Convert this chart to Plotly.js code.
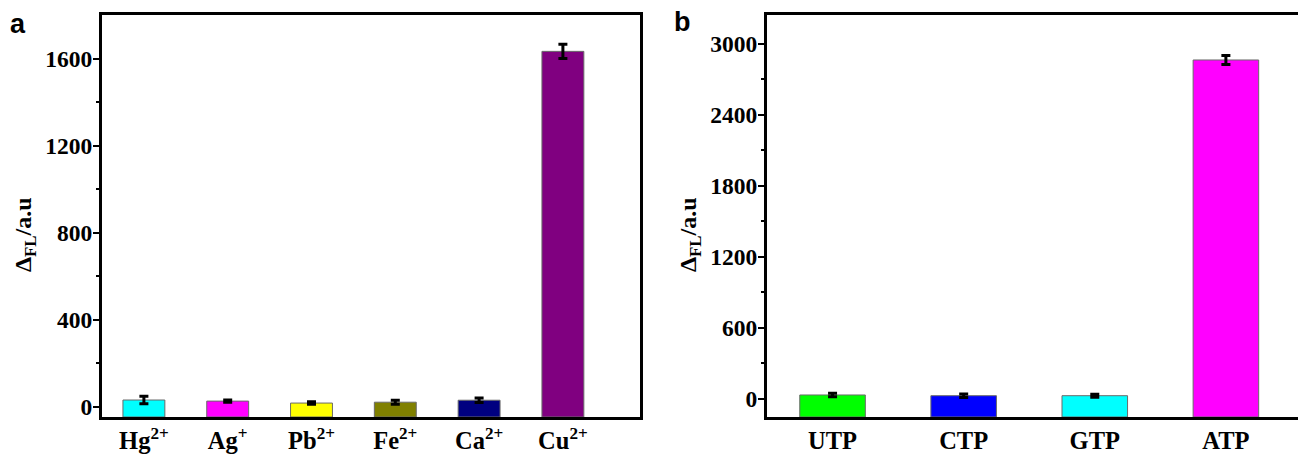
<!DOCTYPE html>
<html>
<head>
<meta charset="utf-8">
<script src="https://cdn.plot.ly/plotly-3.0.1.min.js"></script>
<style>html,body{margin:0;padding:0;background:#fff;overflow:hidden;}#chart{width:1298px;height:454px;}</style>
</head>
<body>
<div id="chart"></div>
<script>
// Panel a: metal ions
var ionLabels = ['Hg<sup>2+</sup>', 'Ag<sup>+</sup>', 'Pb<sup>2+</sup>', 'Fe<sup>2+</sup>', 'Ca<sup>2+</sup>', 'Cu<sup>2+</sup>'];
var ionValues = [32, 27, 18, 22, 31, 1633];
var ionErrors = [17, 5, 6, 9, 10, 33];
var ionColors = ['#00FFFF', '#FF00FF', '#FFFF00', '#808000', '#000080', '#800080'];
var ionTicks = [0, 400, 800, 1200, 1600];
var ionMinorTicks = [200, 600, 1000, 1400];

// Panel b: nucleotides
var nucLabels = ['UTP', 'CTP', 'GTP', 'ATP'];
var nucValues = [34, 28, 28, 2864];
var nucErrors = [15, 15, 13, 38];
var nucColors = ['#00FF00', '#0000FF', '#00FFFF', '#FF00FF'];
var nucTicks = [0, 600, 1200, 1800, 2400, 3000];
var nucMinorTicks = [300, 900, 1500, 2100, 2700];

var yRangeA = [-46, 1800];
var yRangeB = [-152, 3244];

var serif = 'Liberation Serif, Times New Roman, serif';
var W = 1298, H = 454;

function bold(s) { return '<b>' + s + '</b>'; }

function bar(labels, values, errors, colors, base, xa, ya) {
  return {
    type: 'bar',
    x: labels,
    y: values.map(function (v) { return v - base; }),
    base: base,
    xaxis: xa, yaxis: ya,
    width: 0.5,
    marker: {color: colors, line: {color: '#6a6a6a', width: 1}},
    error_y: {type: 'data', array: errors, visible: true, color: '#000', thickness: 3, width: 4.5},
    hoverinfo: 'skip'
  };
}

var data = [
  bar(ionLabels, ionValues, ionErrors, ionColors, yRangeA[0], 'x', 'y'),
  bar(nucLabels, nucValues, nucErrors, nucColors, yRangeB[0], 'x2', 'y2')
];

var tickFont = {family: serif, size: 23.5, color: '#000'};
var catFont = {family: serif, size: 24.5, color: '#000'};

var yDom = [1 - 417 / H, 1 - 15 / H];

function catAxis(labels, domain, range, anchor) {
  return {
    domain: domain, range: range, type: 'category',
    tickvals: labels, ticktext: labels.map(bold),
    showline: true, linecolor: '#000', linewidth: 3, mirror: true,
    ticks: '', showgrid: false, zeroline: false,
    tickfont: catFont, ticklabelstandoff: 0, anchor: anchor, fixedrange: true
  };
}
function valAxis(ticks, minor, range, mirror, anchor) {
  return {
    domain: yDom, range: range,
    showline: true, linecolor: '#000', linewidth: 3, mirror: mirror,
    ticks: 'outside', ticklen: 6, tickwidth: 2, tickcolor: '#000',
    tickvals: ticks, ticktext: ticks.map(function (t) { return bold(String(t)); }),
    minor: {tickvals: minor, ticks: 'outside', ticklen: 3, tickwidth: 2, tickcolor: '#000'},
    showgrid: false, zeroline: false, tickfont: tickFont, ticklabelstandoff: -4, anchor: anchor, fixedrange: true
  };
}

var layout = {
  width: W, height: H,
  margin: {l: 0, r: 0, t: 0, b: 0, pad: 0},
  paper_bgcolor: '#fff', plot_bgcolor: '#fff',
  showlegend: false,
  font: {family: serif, color: '#000'},
  xaxis: catAxis(ionLabels, [102 / W, 640 / W], [-0.5, 5.92], 'y'),
  yaxis: valAxis(ionTicks, ionMinorTicks, yRangeA, true, 'x'),
  xaxis2: catAxis(nucLabels, [767 / W, 1], [-0.5, 3.55], 'y2'),
  yaxis2: valAxis(nucTicks, nucMinorTicks, yRangeB, false, 'x2'),
  annotations: [
    {text: '<b>a</b>', xref: 'paper', yref: 'paper', x: 18 / W, y: 1 - 24 / H, xanchor: 'center', yanchor: 'middle',
     showarrow: false, font: {family: 'Liberation Sans, Arial, sans-serif', size: 27, color: '#000'}},
    {text: '<b>b</b>', xref: 'paper', yref: 'paper', x: 683 / W, y: 1 - 22 / H, xanchor: 'center', yanchor: 'middle',
     showarrow: false, font: {family: 'Liberation Sans, Arial, sans-serif', size: 27, color: '#000'}},
    {text: '<b>Δ<sub>FL</sub>/a.u</b>', xref: 'paper', yref: 'paper', x: 25 / W, y: 1 - 235 / H, xanchor: 'center', yanchor: 'middle',
     textangle: -90, showarrow: false, font: {family: serif, size: 24, color: '#000'}},
    {text: '<b>Δ<sub>FL</sub>/a.u</b>', xref: 'paper', yref: 'paper', x: 690 / W, y: 1 - 235 / H, xanchor: 'center', yanchor: 'middle',
     textangle: -90, showarrow: false, font: {family: serif, size: 24, color: '#000'}}
  ]
};

Plotly.newPlot('chart', data, layout, {displayModeBar: false, staticPlot: true});
</script>
</body>
</html>
